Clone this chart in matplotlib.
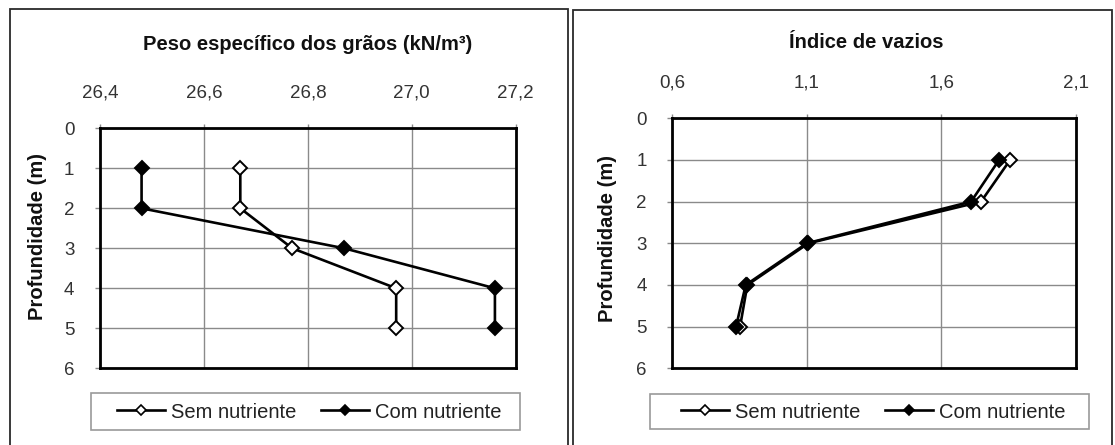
import matplotlib
matplotlib.use("Agg")
import matplotlib.pyplot as plt
from matplotlib.patches import Rectangle
from matplotlib.lines import Line2D

# ---- data ----
depth = [1, 2, 3, 4, 5]
peso_sem = [26.67, 26.67, 26.77, 26.97, 26.97]
peso_com = [26.48, 26.48, 26.87, 27.16, 27.16]
vazios_sem = [1.856, 1.748, 1.106, 0.879, 0.852]
vazios_com = [1.815, 1.711, 1.100, 0.873, 0.837]

peso_ticks = [26.4, 26.6, 26.8, 27.0, 27.2]
vazios_ticks = [0.6, 1.1, 1.6, 2.1]
depth_ticks = [0, 1, 2, 3, 4, 5, 6]
title_peso = "Peso específico dos grãos (kN/m³)"
title_vazios = "Índice de vazios"
ylabel = "Profundidade (m)"
series_names = ["Sem nutriente", "Com nutriente"]

W, H = 1115, 445
plt.rcParams['font.family'] = ['Liberation Sans', 'DejaVu Sans']
fig = plt.figure(figsize=(W / 100, H / 100), dpi=100)
fig.patch.set_facecolor('white')


def fx(px):
    return px / W


def fy(py):
    return 1 - py / H


def rect(x0, y0, x1, y1):
    return [fx(x0), fy(y1), fx(x1) - fx(x0), fy(y0) - fy(y1)]


# panel frames
for (x0, y0, x1) in [(9.5, 8.5, 567.5), (572.5, 9.5, 1111.5)]:
    fig.patches.append(Rectangle((fx(x0), fy(460)), fx(x1) - fx(x0), fy(y0) - fy(460),
                                 transform=fig.transFigure, fill=False,
                                 edgecolor='#2a2a2a', linewidth=1.3))

tick_color = '#333333'
grid_color = '#8a8a8a'


def make_panel(box, xvals_sem, xvals_com, xticks, fmt, title, title_xy,
               ylab_xy, leg_box, leg_center):
    ax = fig.add_axes(rect(*box))
    ax.plot(xvals_sem, depth, color='black', lw=1.9, marker='D', ms=7.4,
            mfc='white', mec='black', mew=1.4, zorder=4)
    ax.plot(xvals_com, depth, color='black', lw=1.9, marker='D', ms=7.4,
            mfc='black', mec='black', mew=1.4, zorder=5)
    ax.set_xlim(xticks[0], xticks[-1])
    ax.set_ylim(6, 0)
    ax.set_xticks(xticks)
    ax.set_xticklabels([fmt.format(v).replace('.', ',') for v in xticks])
    ax.set_yticks(depth_ticks)
    ax.xaxis.set_ticks_position('top')
    ax.tick_params(axis='x', which='both', top=True, bottom=False, labeltop=True,
                   labelbottom=False, length=3, width=1, color=grid_color,
                   pad=16.5, labelsize=13.5, labelcolor=tick_color)
    ax.tick_params(axis='y', length=3.5, width=1, color=grid_color, pad=15,
                   labelsize=13.5, labelcolor=tick_color)
    ax.grid(True, color=grid_color, lw=1.0)
    ax.set_axisbelow(True)
    for s in ax.spines.values():
        s.set_linewidth(2.0)
        s.set_color('black')
    fig.text(fx(title_xy[0]), fy(title_xy[1]), title, ha='center', va='center',
             fontsize=14.5, fontweight='bold', color='#111111')
    fig.text(fx(ylab_xy[0]), fy(ylab_xy[1]), ylabel, ha='center', va='center',
             rotation=90, fontsize=14.5, fontweight='bold', color='#111111')
    # legend box
    lx0, ly0, lx1, ly1 = leg_box
    fig.patches.append(Rectangle((fx(lx0), fy(ly1)), fx(lx1) - fx(lx0), fy(ly0) - fy(ly1),
                                 transform=fig.transFigure, fill=False,
                                 edgecolor='#9a9a9a', linewidth=1.2))
    handles = [Line2D([], [], color='black', lw=1.9, marker='D', ms=5, mfc='white',
                      mec='black', mew=1.2),
               Line2D([], [], color='black', lw=1.9, marker='D', ms=5, mfc='black',
                      mec='black', mew=1.2)]
    fig.legend(handles, series_names, loc='center',
               bbox_to_anchor=(fx(leg_center[0]), fy(leg_center[1])),
               ncol=2, frameon=False, fontsize=14.5, handlelength=2.4,
               handletextpad=0.3, columnspacing=1.2, borderpad=0.2,
               labelcolor='#222222')
    return ax


make_panel((100, 128.3, 515.7, 368.3), peso_sem, peso_com, peso_ticks, '{:.1f}',
           title_peso, (307.5, 45), (38, 236), (90.7, 393.3, 520, 430), (309, 412))
make_panel((672.3, 118.3, 1075.7, 368.3), vazios_sem, vazios_com, vazios_ticks, '{:.1f}',
           title_vazios, (866, 42), (607.5, 238), (650, 394, 1089.3, 429.3), (873.5, 412))

fig.savefig('out.png', dpi=100, facecolor='white')
